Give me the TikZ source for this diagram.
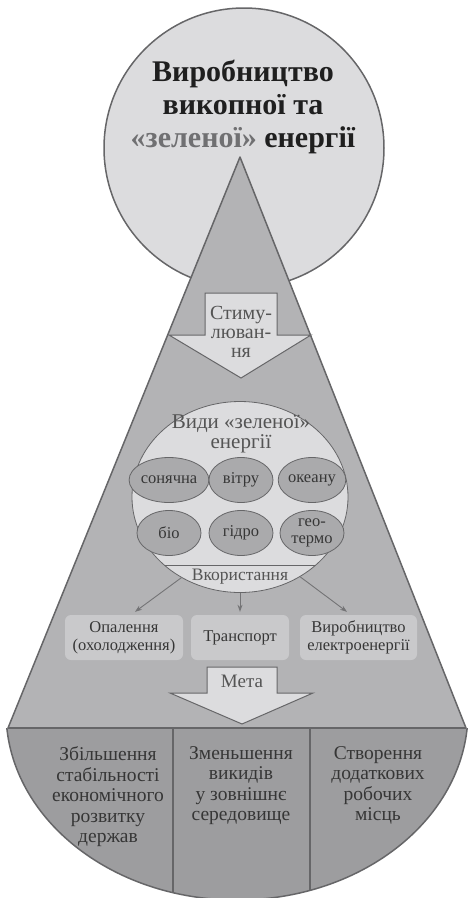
\documentclass[tikz,border=0pt]{standalone}
\usepackage{fontspec}
\setmainfont{Liberation Serif}
\usetikzlibrary{arrows.meta,positioning,calc,shapes.geometric}

\definecolor{edge}{HTML}{666668}
\definecolor{pale}{HTML}{DCDCDE}
\definecolor{mid}{HTML}{B3B3B5}
\definecolor{deep}{HTML}{9D9D9F}
\definecolor{oval}{HTML}{AAAAAC}
\definecolor{boxg}{HTML}{C9C9CB}
\definecolor{ink}{HTML}{363636}
\definecolor{greenword}{HTML}{707072}
\definecolor{arrg}{HTML}{747476}

\begin{document}
\begin{tikzpicture}[x=1pt,y=-1pt,>={Stealth[length=7pt,width=5pt]},
  font=\fontsize{16.5}{18}\selectfont,text=ink,
  kind/.style={draw=edge,line width=0.8pt,fill=oval,ellipse,minimum width=64pt,minimum height=45pt,inner sep=0pt,align=center,font=\fontsize{16.5}{17}\selectfont},
  usebox/.style={fill=boxg,rounded corners=6pt,minimum height=45pt,inner sep=2pt,align=center},
  goal/.style={anchor=north,align=center,font=\fontsize{19.5}{20.5}\selectfont},
  blockarr/.style={draw=edge,line width=1pt,fill=pale,line join=miter}]
\useasboundingbox (0,0) rectangle (470,898);

% source circle and cone
\node[circle,draw=edge,line width=1.5pt,fill=pale,minimum size=280pt] (source) at (244,148) {};
\coordinate (apex) at (240,157);
\coordinate (bl) at (8,728);
\coordinate (br) at (466,728);
\draw[draw=edge,line width=1.5pt,fill=mid,line join=round] (apex) -- (bl) -- (br) -- cycle;

% goals segment
\begin{scope}
  \clip (0,728) rectangle (470,898);
  \draw[draw=edge,line width=1.5pt,fill=deep] (237,712) ellipse [x radius=231pt,y radius=188pt];
\end{scope}
\begin{scope}
  \clip (237,712) ellipse [x radius=231pt,y radius=188pt];
  \draw[draw=edge,line width=1.5pt] (173,728) -- (173,898);
  \draw[draw=edge,line width=1.5pt] (310,728) -- (310,898);
\end{scope}
\draw[draw=edge,line width=1.5pt] (bl) -- (br);

\node[align=center,font=\fontsize{30}{33}\selectfont\bfseries,text=black!88] (title) at (243,107)
  {Виробництво\\викопної та\\{\color{greenword}«зеленої»} енергії};

% stimulation arrow
\draw[blockarr] (205,293) -- (277,293) -- (277,335) -- (311,335) -- (241,378) -- (169,335) -- (205,335) -- cycle;
\node[align=center,font=\fontsize{20}{19}\selectfont,text=ink!85] (stim) at (241,332) {Стиму-\\люван-\\ня};

% kinds of green energy
\node[ellipse,draw=edge,line width=0.8pt,fill=pale,minimum width=216pt,minimum height=191pt,inner sep=0pt] (vid) at (240,497) {};
\begin{scope}
  \clip (240,497) ellipse [x radius=108pt,y radius=95.5pt];
  \draw[draw=edge,line width=0.8pt] (120,565) -- (360,565);
\end{scope}
\node[align=center,font=\fontsize{21}{20.5}\selectfont,text=ink!85] (vidtitle) at (241,434) {Види «зеленої»\\енергії};
\foreach \i/\x/\y/\txt in {1/169/480/сонячна,2/241/480/вітру,3/312/480/океану,
                           4/169/533/біо,5/241/533/гідро,6/312/533/{гео-\\термо}}{
  \node[kind] (k\i) at (\x,\y) {\txt};
}
\node[font=\fontsize{17.5}{17}\selectfont,text=ink!85] (use) at (240,577) {Вкористання};

% uses
\node[usebox,minimum width=118pt] (heat) at (124,637.5) {Опалення\\(охолодження)};
\node[usebox,minimum width=98pt] (trans) at (240,637.5) {Транспорт};
\node[usebox,minimum width=117pt] (elec) at (358.5,637.5) {Виробництво\\електроенергії};
\draw[->,draw=arrg,line width=0.9pt] (vid.234) -- ([xshift=11pt,yshift=3pt]heat.north);
\draw[->,draw=arrg,line width=0.9pt] (vid.south) -- ([yshift=3pt]trans.north);
\draw[->,draw=arrg,line width=0.9pt] (vid.307) -- ([xshift=-11.5pt,yshift=3pt]elec.north);

% goal arrow
\draw[blockarr] (207,667) -- (277,667) -- (277,693) -- (313,693) -- (242,724) -- (170,693) -- (207,693) -- cycle;
\node[font=\fontsize{19}{19}\selectfont,text=ink!85] (meta) at (242,681) {Мета};

% goals
\node[goal] (g1) at (108,743) {Збільшення\\стабільності\\економічного\\розвитку\\держав};
\node[goal] (g2) at (241,743) {Зменьшення\\викидів\\у зовнішнє\\середовище};
\node[goal] (g3) at (378,743) {Створення\\додаткових\\робочих\\місць};
\end{tikzpicture}
\end{document}
